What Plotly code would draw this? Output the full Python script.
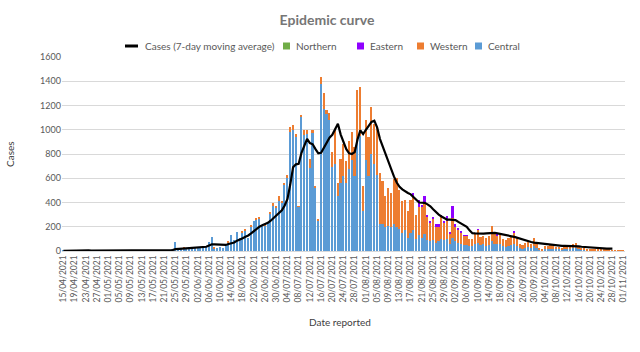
import datetime as dt
import plotly.graph_objects as go

# ---------------- data ----------------
start = dt.date(2021, 4, 15)
dates = [(start + dt.timedelta(days=i)).strftime("%d/%m/%Y") for i in range(201)]
tick_labels = dates[::4]

central = [
    4, 6, 3, 5, 7, 4, 3, 6, 5, 2, 4, 3, 5, 6, 4, 2, 3, 5, 4, 6, 3, 2, 4, 5, 3, 4, 6, 8, 5, 3, 2, 4, 3, 5, 4, 3, 6, 4, 5,
    10, 75, 15, 22, 20, 20, 30, 28, 22, 35, 30, 33, 35, 78, 118, 22, 25, 35, 28, 42, 68,
    133, 92, 155, 105, 155, 170, 105, 201, 244, 262, 265, 203, 212, 230, 309, 372, 360, 415, 401, 549, 603, 982, 1001, 937, 364, 1105, 954, 964, 688, 970, 516, 253,
    1379, 1170, 1131, 1082, 690, 720, 450, 560, 620, 560, 680, 750, 620, 900, 950, 330, 750, 620, 800, 720, 630, 220, 220, 200, 210, 200, 220,
    200, 180, 150, 170, 110, 150, 170, 100, 130, 110, 140, 90, 80, 90, 70, 80, 100, 90, 100, 60, 110, 80, 70, 60, 50, 50, 40, 40,
    60, 70, 50, 55, 45, 50, 80, 60, 55, 55, 40, 35, 45, 50, 60, 45, 25, 20, 25, 30, 22, 40, 25, 10, 8, 18, 18, 20, 15, 14,
    14, 12, 14, 18, 18, 22, 28, 15, 12, 10, 8, 8, 7, 6, 6, 6, 5, 6, 6, 4, 4, 3, 3, 2,
]

western = [
    0, 0, 0, 0, 0, 0, 0, 0, 0, 0, 0, 0, 0, 0, 0, 0, 0, 0, 0, 0, 0, 0, 0, 0, 0, 0, 0, 0, 0, 0, 0, 0, 0, 0, 0, 0, 0, 0, 0,
    0, 0, 0, 0, 5, 0, 0, 0, 0, 0, 0, 5, 0, 0, 0, 8, 0, 0, 0, 0, 10,
    0, 0, 0, 0, 5, 15, 0, 10, 0, 10, 15, 0, 5, 0, 10, 25, 15, 35, 10, 15, 25, 40, 35, 30, 5, 20, 40, 30, 70, 30, 20, 5,
    60, 130, 30, 60, 124, 274, 114, 198, 263, 184, 231, 231, 237, 428, 405, 206, 328, 319, 389, 330, 392, 427, 358, 253, 312, 281, 372,
    400, 320, 260, 250, 220, 267, 280, 200, 232, 250, 260, 190, 150, 170, 130, 119, 180, 140, 150, 80, 160, 120, 105, 90, 75, 75, 60, 57,
    90, 105, 69, 70, 65, 75, 123, 87, 75, 78, 55, 55, 60, 75, 90, 74, 30, 30, 39, 48, 36, 71, 39, 15, 12, 27, 27, 32, 23, 21,
    21, 16, 21, 27, 27, 33, 41, 21, 16, 12, 11, 11, 10, 8, 8, 8, 6, 8, 8, 4, 4, 3, 3, 2,
]

eastern = [
    0, 0, 0, 0, 0, 0, 0, 0, 0, 0, 0, 0, 0, 0, 0, 0, 0, 0, 0, 0, 0, 0, 0, 0, 0, 0, 0, 0, 0, 0, 0, 0, 0, 0, 0, 0, 0, 0, 0,
    0, 0, 0, 0, 0, 0, 0, 0, 0, 0, 0, 0, 0, 0, 0, 0, 0, 0, 0, 0, 0,
    0, 0, 0, 0, 0, 0, 0, 0, 0, 0, 0, 0, 0, 0, 0, 0, 0, 0, 0, 0, 0, 0, 0, 0, 0, 0, 0, 0, 0, 0, 0, 0,
    0, 0, 0, 0, 0, 0, 0, 0, 0, 0, 0, 0, 0, 0, 0, 0, 0, 0, 0, 0, 0, 0, 0, 0, 0, 0, 0,
    0, 0, 0, 0, 0, 0, 30, 0, 60, 20, 50, 20, 21, 20, 20, 20, 20, 20, 36, 20, 101, 20, 15, 10, 7, 5, 0, 0,
    0, 5, 0, 0, 0, 0, 0, 0, 5, 0, 0, 0, 0, 0, 8, 0, 0, 0, 0, 0, 0, 0, 0, 0, 0, 0, 0, 0, 0, 0,
    0, 0, 0, 0, 0, 0, 0, 0, 0, 0, 0, 0, 0, 0, 0, 0, 0, 0, 0, 0, 0, 0, 0, 0,
]

northern = [
    0, 0, 0, 0, 0, 0, 0, 0, 0, 0, 0, 0, 0, 0, 0, 0, 0, 0, 0, 0, 0, 0, 0, 0, 0, 0, 0, 0, 0, 0, 0, 0, 0, 0, 0, 0, 0, 0, 0,
    0, 0, 0, 0, 0, 0, 0, 0, 0, 0, 0, 0, 0, 0, 0, 0, 0, 0, 0, 0, 0,
    0, 0, 0, 0, 0, 0, 0, 0, 0, 0, 0, 0, 0, 0, 0, 0, 0, 0, 0, 0, 0, 0, 0, 0, 0, 0, 0, 0, 0, 0, 0, 0,
    0, 0, 0, 0, 0, 0, 0, 0, 0, 0, 0, 0, 0, 0, 0, 0, 0, 0, 0, 0, 0, 0, 0, 0, 0, 0, 0,
    0, 0, 0, 0, 0, 0, 0, 0, 0, 0, 0, 0, 0, 0, 0, 0, 0, 0, 0, 0, 0, 0, 0, 0, 0, 0, 0, 0,
    0, 0, 0, 0, 0, 0, 0, 0, 0, 0, 0, 0, 0, 0, 0, 0, 0, 0, 0, 0, 0, 0, 0, 0, 0, 0, 0, 0, 0, 0,
    0, 0, 0, 0, 0, 0, 0, 0, 0, 0, 0, 0, 0, 0, 0, 0, 0, 0, 0, 0, 0, 0, 0, 0,
]

ma_7day = [
    2, 3, 3, 4, 4, 5, 5, 5, 5, 5, 4, 4, 4, 4, 4, 4, 5, 5, 5, 5, 5, 4, 4, 4, 4, 4, 4, 4, 5, 5, 5, 5, 4, 4, 4, 4, 4, 4, 5,
    8, 15, 18, 20, 21, 22, 24, 26, 28, 28, 30, 31, 35, 45, 55, 55, 54, 52, 50, 50, 58,
    66, 70, 85, 92, 105, 118, 128, 145, 165, 182, 200, 212, 220, 232, 250, 270, 292, 315, 335, 375, 430, 550, 690, 715, 720, 810, 870, 925, 890, 880, 840, 805,
    810, 850, 900, 935, 958, 1000, 1050, 960, 900, 840, 805, 800, 815, 920, 995, 965, 1000, 1030, 1065, 1075, 1020, 925, 860, 800, 740, 675, 615,
    565, 530, 508, 490, 478, 467, 445, 420, 400, 398, 397, 385, 369, 345, 320, 300, 285, 270, 258, 258, 258, 255, 240, 228, 217, 200, 170, 147,
    145, 143, 142, 144, 146, 149, 153, 150, 146, 142, 139, 133, 127, 121, 116, 108, 100, 92, 86, 80, 74, 69, 66, 63, 60, 58, 55, 51, 48, 45,
    42, 42, 42, 42, 42, 42, 40, 38, 35, 33, 31, 28, 25, 22, 19, 19, 19, 19, 19, 19,
]

y_ticks = [0, 200, 400, 600, 800, 1000, 1200, 1400, 1600]

series_names = ["Central", "Western", "Eastern", "Northern"]
series_colors = ["#5B9BD5", "#ED7D31", "#8F00FF", "#70AD47"]
line_name = "Cases (7-day moving average)"

# ---------------- figure ----------------
FONT = "Lato, 'Open Sans', sans-serif"
GREY = "#595959"
W, H = 640, 352
ML, MR, MT, MB = 62, 15, 57, 101
PW, PH = W - ML - MR, H - MT - MB


def px_x(px):  # pixel -> paper x
    return (px - ML) / PW


def px_y(py):  # pixel -> paper y
    return (H - MB - py) / PH


fig = go.Figure()
for name, vals, col in zip(series_names, [central, western, eastern, northern], series_colors):
    fig.add_trace(go.Bar(x=dates, y=vals, name=name, marker=dict(color=col, line=dict(width=0))))
fig.add_trace(go.Scatter(x=dates[:len(ma_7day)], y=ma_7day, name=line_name,
                         mode="lines", line=dict(color="black", width=2.2)))

fig.update_layout(
    width=W, height=H,
    margin=dict(l=ML, r=MR, t=MT, b=MB, autoexpand=False),
    barmode="stack", bargap=0.42,
    paper_bgcolor="white", plot_bgcolor="white",
    font=dict(family=FONT, color=GREY, size=10),
    title=dict(text="<b>Epidemic curve</b>", x=327 / W, xanchor="center", y=1 - 20 / H, yanchor="middle",
               font=dict(size=14, color="#767676", family=FONT)),
    showlegend=False,
)
fig.update_xaxes(type="category", tickmode="array", tickvals=tick_labels, ticktext=tick_labels,
                 tickangle=-90, tickfont=dict(size=8.5, color=GREY), showgrid=False,
                 showline=True, linecolor="#d9d9d9", ticks="", automargin=False,
                 range=[-0.5, 200.5])
fig.update_yaxes(range=[0, 1600], tickvals=y_ticks, tickfont=dict(size=9, color=GREY),
                 gridcolor="#d9d9d9", gridwidth=1, zeroline=False, showline=False,
                 automargin=False)

# ---- legend (drawn as real text + small keys, laid out like the reference) ----
leg_y = 46
fig.add_shape(type="line", xref="paper", yref="paper",
              x0=px_x(125), x1=px_x(138), y0=px_y(leg_y), y1=px_y(leg_y),
              line=dict(color="black", width=3))
fig.add_annotation(text=line_name, xref="paper", yref="paper", x=px_x(143), y=px_y(leg_y),
                   xanchor="left", yanchor="middle", showarrow=False, font=dict(size=10, color=GREY))
legend_items = [("Northern", "#70AD47", 283), ("Eastern", "#8F00FF", 357),
                ("Western", "#ED7D31", 417), ("Central", "#5B9BD5", 475)]
for name, col, sx in legend_items:
    fig.add_shape(type="rect", xref="paper", yref="paper",
                  x0=px_x(sx), x1=px_x(sx + 7), y0=px_y(leg_y + 3.5), y1=px_y(leg_y - 3.5),
                  fillcolor=col, line=dict(width=0))
    fig.add_annotation(text=name, xref="paper", yref="paper", x=px_x(sx + 11), y=px_y(leg_y),
                       xanchor="left", yanchor="middle", showarrow=False, font=dict(size=10, color=GREY))

# ---- axis titles ----
fig.add_annotation(text="Cases", textangle=-90, xref="paper", yref="paper",
                   x=px_x(10), y=0.5, xanchor="center", yanchor="middle",
                   showarrow=False, font=dict(size=10, color="#404040"))
fig.add_annotation(text="Date reported", xref="paper", yref="paper",
                   x=px_x(340), y=px_y(322), xanchor="center", yanchor="middle",
                   showarrow=False, font=dict(size=10, color="#404040"))

fig.write_html("out.html")
